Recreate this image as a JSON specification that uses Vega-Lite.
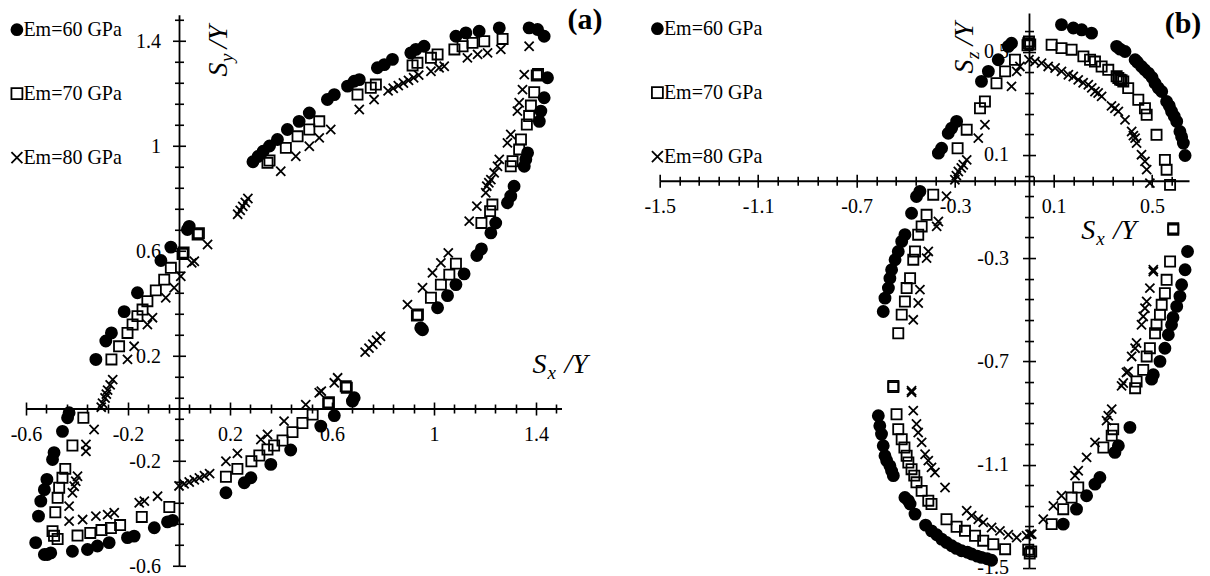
{
  "$schema": "https://vega.github.io/schema/vega-lite/v6.json",
  "usermeta": {"embedOptions": {"actions": false}},
  "background": "white",
  "padding": {"left": 6, "top": 4.9, "right": 0, "bottom": 2},
  "spacing": 97.7,
  "bounds": "flush",
  "center": true,
  "datasets": {
    "a": [
      {"s":"60","x":0.04,"y":0.694},{"s":"60","x":0.033,"y":0.682},{"s":"60","x":-0.032,"y":0.615},{"s":"60","x":-0.071,"y":0.564},{"s":"60","x":-0.163,"y":0.441},{"s":"60","x":-0.215,"y":0.369},{"s":"60","x":-0.265,"y":0.288},{"s":"60","x":-0.287,"y":0.257},{"s":"60","x":-0.326,"y":0.187},
      {"s":"60","x":-0.431,"y":-0.016},{"s":"60","x":-0.437,"y":-0.035},{"s":"60","x":-0.457,"y":-0.087},{"s":"60","x":-0.49,"y":-0.168},{"s":"60","x":-0.496,"y":-0.194},{"s":"60","x":-0.518,"y":-0.27},{"s":"60","x":-0.528,"y":-0.309},{"s":"60","x":-0.542,"y":-0.353},{"s":"60","x":-0.551,"y":-0.41},{"s":"60","x":-0.562,"y":-0.511},{"s":"60","x":-0.528,"y":-0.556},{"s":"60","x":-0.516,"y":-0.556},{"s":"60","x":-0.503,"y":-0.55},{"s":"60","x":-0.418,"y":-0.544},{"s":"60","x":-0.359,"y":-0.537},{"s":"60","x":-0.32,"y":-0.524},{"s":"60","x":-0.274,"y":-0.511},{"s":"60","x":-0.202,"y":-0.492},{"s":"60","x":-0.176,"y":-0.486},{"s":"60","x":-0.097,"y":-0.454},{"s":"60","x":-0.045,"y":-0.432},{"s":"60","x":-0.025,"y":-0.426},
      {"s":"60","x":0.184,"y":-0.321},{"s":"60","x":0.256,"y":-0.283},{"s":"60","x":0.282,"y":-0.264},{"s":"60","x":0.36,"y":-0.213},{"s":"60","x":0.438,"y":-0.158},{"s":"60","x":0.556,"y":-0.067},{"s":"60","x":0.609,"y":-0.027},{"s":"60","x":0.68,"y":0.028},{"s":"60","x":0.687,"y":0.041},
      {"s":"60","x":0.948,"y":0.307},{"s":"60","x":0.955,"y":0.3},{"s":"60","x":1.014,"y":0.384},{"s":"60","x":1.053,"y":0.43},{"s":"60","x":1.086,"y":0.472},{"s":"60","x":1.118,"y":0.513},{"s":"60","x":1.168,"y":0.583},{"s":"60","x":1.186,"y":0.608},{"s":"60","x":1.223,"y":0.669},{"s":"60","x":1.242,"y":0.707},{"s":"60","x":1.288,"y":0.784},{"s":"60","x":1.301,"y":0.809},{"s":"60","x":1.314,"y":0.847},{"s":"60","x":1.354,"y":0.923},{"s":"60","x":1.36,"y":0.949},{"s":"60","x":1.367,"y":0.974},{"s":"60","x":1.413,"y":1.094},{"s":"60","x":1.419,"y":1.133},{"s":"60","x":1.432,"y":1.184},{"s":"60","x":1.445,"y":1.26},{"s":"60","x":1.432,"y":1.418},{"s":"60","x":1.406,"y":1.444},{"s":"60","x":1.373,"y":1.45},
      {"s":"60","x":1.256,"y":1.45},{"s":"60","x":1.177,"y":1.437},{"s":"60","x":1.125,"y":1.431},{"s":"60","x":1.086,"y":1.418},{"s":"60","x":0.961,"y":1.38},{"s":"60","x":0.929,"y":1.368},{"s":"60","x":0.909,"y":1.355},{"s":"60","x":0.837,"y":1.33},{"s":"60","x":0.805,"y":1.31},{"s":"60","x":0.778,"y":1.298},{"s":"60","x":0.707,"y":1.253},{"s":"60","x":0.687,"y":1.247},{"s":"60","x":0.661,"y":1.228},{"s":"60","x":0.609,"y":1.196},{"s":"60","x":0.582,"y":1.177},{"s":"60","x":0.511,"y":1.126},{"s":"60","x":0.471,"y":1.094},{"s":"60","x":0.425,"y":1.063},{"s":"60","x":0.386,"y":1.025},{"s":"60","x":0.355,"y":1.0},{"s":"60","x":0.33,"y":0.98},{"s":"60","x":0.31,"y":0.96},{"s":"60","x":0.29,"y":0.94},
      {"s":"70","x":0.073,"y":0.663},{"s":"70","x":0.078,"y":0.668},{"s":"70","x":0.014,"y":0.589},{"s":"70","x":0.018,"y":0.594},{"s":"70","x":-0.032,"y":0.536},{"s":"70","x":-0.058,"y":0.491},{"s":"70","x":-0.091,"y":0.45},{"s":"70","x":-0.124,"y":0.409},{"s":"70","x":-0.143,"y":0.377},{"s":"70","x":-0.163,"y":0.352},{"s":"70","x":-0.182,"y":0.32},{"s":"70","x":-0.202,"y":0.288},{"s":"70","x":-0.235,"y":0.237},{"s":"70","x":-0.265,"y":0.187},
      {"s":"70","x":-0.375,"y":-0.035},{"s":"70","x":-0.418,"y":-0.141},{"s":"70","x":-0.446,"y":-0.23},{"s":"70","x":-0.457,"y":-0.264},{"s":"70","x":-0.47,"y":-0.302},{"s":"70","x":-0.476,"y":-0.34},{"s":"70","x":-0.485,"y":-0.395},{"s":"70","x":-0.496,"y":-0.467},{"s":"70","x":-0.49,"y":-0.485},{"s":"70","x":-0.476,"y":-0.497},{"s":"70","x":-0.398,"y":-0.484},{"s":"70","x":-0.348,"y":-0.474},{"s":"70","x":-0.304,"y":-0.463},{"s":"70","x":-0.267,"y":-0.455},{"s":"70","x":-0.231,"y":-0.444},{"s":"70","x":-0.146,"y":-0.413},{"s":"70","x":-0.038,"y":-0.375},
      {"s":"70","x":0.184,"y":-0.26},{"s":"70","x":0.229,"y":-0.23},{"s":"70","x":0.284,"y":-0.201},{"s":"70","x":0.315,"y":-0.179},{"s":"70","x":0.347,"y":-0.156},{"s":"70","x":0.373,"y":-0.141},{"s":"70","x":0.406,"y":-0.122},{"s":"70","x":0.445,"y":-0.09},{"s":"70","x":0.484,"y":-0.055},{"s":"70","x":0.524,"y":-0.023},{"s":"70","x":0.585,"y":0.019},{"s":"70","x":0.588,"y":0.024},{"s":"70","x":0.654,"y":0.085},{"s":"70","x":0.658,"y":0.079},
      {"s":"70","x":0.933,"y":0.354},{"s":"70","x":0.937,"y":0.358},{"s":"70","x":0.988,"y":0.422},{"s":"70","x":1.027,"y":0.472},{"s":"70","x":1.06,"y":0.51},{"s":"70","x":1.086,"y":0.552},{"s":"70","x":1.186,"y":0.707},{"s":"70","x":1.22,"y":0.752},{"s":"70","x":1.229,"y":0.777},{"s":"70","x":1.301,"y":0.923},{"s":"70","x":1.308,"y":0.942},{"s":"70","x":1.334,"y":0.987},{"s":"70","x":1.341,"y":1.025},{"s":"70","x":1.364,"y":1.082},{"s":"70","x":1.373,"y":1.114},{"s":"70","x":1.38,"y":1.154},{"s":"70","x":1.393,"y":1.205},{"s":"70","x":1.403,"y":1.269},{"s":"70","x":1.408,"y":1.274},
      {"s":"70","x":1.269,"y":1.408},{"s":"70","x":1.197,"y":1.399},{"s":"70","x":1.151,"y":1.393},{"s":"70","x":1.112,"y":1.38},{"s":"70","x":1.08,"y":1.368},{"s":"70","x":1.014,"y":1.349},{"s":"70","x":0.988,"y":1.336},{"s":"70","x":0.935,"y":1.317},{"s":"70","x":0.916,"y":1.307},{"s":"70","x":0.772,"y":1.234},{"s":"70","x":0.752,"y":1.222},{"s":"70","x":0.7,"y":1.196},{"s":"70","x":0.55,"y":1.094},{"s":"70","x":0.511,"y":1.063},{"s":"70","x":0.465,"y":1.037},{"s":"70","x":0.419,"y":0.993},{"s":"70","x":0.347,"y":0.936},{"s":"70","x":0.355,"y":0.945},
      {"s":"80","x":0.112,"y":0.625},{"s":"80","x":0.06,"y":0.561},{"s":"80","x":0.05,"y":0.555},{"s":"80","x":0.007,"y":0.504},{"s":"80","x":-0.019,"y":0.46},{"s":"80","x":-0.052,"y":0.422},{"s":"80","x":-0.104,"y":0.346},{"s":"80","x":-0.124,"y":0.32},{"s":"80","x":-0.176,"y":0.237},{"s":"80","x":-0.202,"y":0.187},
      {"s":"80","x":-0.26,"y":0.11},{"s":"80","x":-0.27,"y":0.09},{"s":"80","x":-0.28,"y":0.07},{"s":"80","x":-0.285,"y":0.055},{"s":"80","x":-0.29,"y":0.04},{"s":"80","x":-0.3,"y":0.02},{"s":"80","x":-0.305,"y":0.005},
      {"s":"80","x":-0.333,"y":-0.08},{"s":"80","x":-0.365,"y":-0.137},{"s":"80","x":-0.365,"y":-0.163},{"s":"80","x":-0.398,"y":-0.258},{"s":"80","x":-0.405,"y":-0.277},{"s":"80","x":-0.411,"y":-0.296},{"s":"80","x":-0.418,"y":-0.321},{"s":"80","x":-0.431,"y":-0.372},{"s":"80","x":-0.431,"y":-0.429},{"s":"80","x":-0.378,"y":-0.423},{"s":"80","x":-0.326,"y":-0.41},{"s":"80","x":-0.28,"y":-0.404},{"s":"80","x":-0.254,"y":-0.397},{"s":"80","x":-0.156,"y":-0.359},{"s":"80","x":-0.136,"y":-0.353},{"s":"80","x":-0.084,"y":-0.334},
      {"s":"80","x":0.0,"y":-0.295},{"s":"80","x":0.02,"y":-0.287},{"s":"80","x":0.04,"y":-0.28},{"s":"80","x":0.06,"y":-0.272},{"s":"80","x":0.08,"y":-0.264},{"s":"80","x":0.1,"y":-0.256},{"s":"80","x":0.12,"y":-0.248},
      {"s":"80","x":0.184,"y":-0.201},{"s":"80","x":0.229,"y":-0.171},{"s":"80","x":0.321,"y":-0.118},{"s":"80","x":0.347,"y":-0.099},{"s":"80","x":0.412,"y":-0.048},{"s":"80","x":0.497,"y":0.015},{"s":"80","x":0.55,"y":0.06},{"s":"80","x":0.558,"y":0.066},{"s":"80","x":0.609,"y":0.098},{"s":"80","x":0.622,"y":0.117},
      {"s":"80","x":0.73,"y":0.215},{"s":"80","x":0.745,"y":0.23},{"s":"80","x":0.76,"y":0.245},{"s":"80","x":0.775,"y":0.26},{"s":"80","x":0.79,"y":0.275},
      {"s":"80","x":0.896,"y":0.396},{"s":"80","x":0.955,"y":0.46},{"s":"80","x":0.994,"y":0.517},{"s":"80","x":1.027,"y":0.555},{"s":"80","x":1.056,"y":0.593},{"s":"80","x":1.138,"y":0.714},{"s":"80","x":1.168,"y":0.771},{"s":"80","x":1.203,"y":0.822},
      {"s":"80","x":1.207,"y":0.847},{"s":"80","x":1.215,"y":0.86},{"s":"80","x":1.223,"y":0.872},{"s":"80","x":1.236,"y":0.898},{"s":"80","x":1.249,"y":0.923},{"s":"80","x":1.256,"y":0.949},{"s":"80","x":1.288,"y":1.012},{"s":"80","x":1.301,"y":1.044},{"s":"80","x":1.327,"y":1.133},{"s":"80","x":1.334,"y":1.165},{"s":"80","x":1.347,"y":1.215},{"s":"80","x":1.354,"y":1.272},{"s":"80","x":1.373,"y":1.38},
      {"s":"80","x":1.262,"y":1.368},{"s":"80","x":1.21,"y":1.355},{"s":"80","x":1.171,"y":1.349},{"s":"80","x":1.131,"y":1.336},{"s":"80","x":1.04,"y":1.304},{"s":"80","x":1.02,"y":1.298},{"s":"80","x":0.988,"y":1.285},{"s":"80","x":0.94,"y":1.27},{"s":"80","x":0.92,"y":1.26},{"s":"80","x":0.9,"y":1.25},{"s":"80","x":0.88,"y":1.24},{"s":"80","x":0.86,"y":1.23},{"s":"80","x":0.84,"y":1.22},{"s":"80","x":0.82,"y":1.21},{"s":"80","x":0.765,"y":1.177},{"s":"80","x":0.707,"y":1.139},{"s":"80","x":0.595,"y":1.063},{"s":"80","x":0.55,"y":1.031},{"s":"80","x":0.511,"y":0.999},{"s":"80","x":0.458,"y":0.961},{"s":"80","x":0.399,"y":0.904},
      {"s":"80","x":0.23,"y":0.74},{"s":"80","x":0.24,"y":0.755},{"s":"80","x":0.25,"y":0.77},{"s":"80","x":0.26,"y":0.785},{"s":"80","x":0.27,"y":0.8}
    ],
    "b": [
      {"s":"60","x":0.132,"y":0.605},{"s":"60","x":0.18,"y":0.592},{"s":"60","x":0.214,"y":0.585},{"s":"60","x":0.254,"y":0.572},{"s":"60","x":0.356,"y":0.521},{"s":"60","x":0.37,"y":0.51},{"s":"60","x":0.39,"y":0.501},{"s":"60","x":0.431,"y":0.469},{"s":"60","x":0.44,"y":0.46},{"s":"60","x":0.457,"y":0.443},{"s":"60","x":0.47,"y":0.43},{"s":"60","x":0.485,"y":0.417},{"s":"60","x":0.5,"y":0.4},{"s":"60","x":0.512,"y":0.378},{"s":"60","x":0.525,"y":0.36},{"s":"60","x":0.539,"y":0.346},{"s":"60","x":0.559,"y":0.307},{"s":"60","x":0.57,"y":0.29},{"s":"60","x":0.579,"y":0.269},{"s":"60","x":0.59,"y":0.25},{"s":"60","x":0.6,"y":0.23},{"s":"60","x":0.613,"y":0.191},{"s":"60","x":0.62,"y":0.17},{"s":"60","x":0.627,"y":0.146},{"s":"60","x":0.634,"y":0.098},
      {"s":"60","x":-0.071,"y":0.533},{"s":"60","x":-0.084,"y":0.521},{"s":"60","x":-0.125,"y":0.469},{"s":"60","x":-0.165,"y":0.424},{"s":"60","x":-0.193,"y":0.385},{"s":"60","x":-0.294,"y":0.23},{"s":"60","x":-0.314,"y":0.204},{"s":"60","x":-0.328,"y":0.184},{"s":"60","x":-0.355,"y":0.126},{"s":"60","x":-0.368,"y":0.107},
      {"s":"60","x":-0.443,"y":-0.041},{"s":"60","x":-0.457,"y":-0.061},{"s":"60","x":-0.477,"y":-0.126},{"s":"60","x":-0.504,"y":-0.209},{"s":"60","x":-0.517,"y":-0.235},{"s":"60","x":-0.531,"y":-0.274},{"s":"60","x":-0.544,"y":-0.306},{"s":"60","x":-0.558,"y":-0.345},{"s":"60","x":-0.565,"y":-0.378},{"s":"60","x":-0.571,"y":-0.416},{"s":"60","x":-0.585,"y":-0.455},{"s":"60","x":-0.592,"y":-0.507},
      {"s":"60","x":-0.612,"y":-0.911},{"s":"60","x":-0.606,"y":-0.95},{"s":"60","x":-0.599,"y":-0.982},{"s":"60","x":-0.592,"y":-1.027},{"s":"60","x":-0.585,"y":-1.066},{"s":"60","x":-0.578,"y":-1.085},{"s":"60","x":-0.565,"y":-1.105},{"s":"60","x":-0.558,"y":-1.125},{"s":"60","x":-0.551,"y":-1.143},{"s":"60","x":-0.504,"y":-1.228},{"s":"60","x":-0.49,"y":-1.24},{"s":"60","x":-0.483,"y":-1.253},{"s":"60","x":-0.463,"y":-1.292},{"s":"60","x":-0.42,"y":-1.335},{"s":"60","x":-0.396,"y":-1.357},{"s":"60","x":-0.375,"y":-1.372},{"s":"60","x":-0.355,"y":-1.389},{"s":"60","x":-0.335,"y":-1.402},{"s":"60","x":-0.314,"y":-1.415},{"s":"60","x":-0.295,"y":-1.425},{"s":"60","x":-0.274,"y":-1.434},{"s":"60","x":-0.25,"y":-1.44},{"s":"60","x":-0.233,"y":-1.447},{"s":"60","x":-0.21,"y":-1.455},{"s":"60","x":-0.193,"y":-1.46},{"s":"60","x":-0.17,"y":-1.465},{"s":"60","x":-0.152,"y":-1.471},
      {"s":"60","x":0.139,"y":-1.331},{"s":"60","x":0.193,"y":-1.273},{"s":"60","x":0.234,"y":-1.221},{"s":"60","x":0.268,"y":-1.176},{"s":"60","x":0.288,"y":-1.15},{"s":"60","x":0.349,"y":-1.053},{"s":"60","x":0.363,"y":-1.027},{"s":"60","x":0.41,"y":-0.956},{"s":"60","x":0.498,"y":-0.769},{"s":"60","x":0.505,"y":-0.752},{"s":"60","x":0.532,"y":-0.7},{"s":"60","x":0.552,"y":-0.649},{"s":"60","x":0.566,"y":-0.597},{"s":"60","x":0.579,"y":-0.558},{"s":"60","x":0.585,"y":-0.53},{"s":"60","x":0.6,"y":-0.487},{"s":"60","x":0.613,"y":-0.448},{"s":"60","x":0.62,"y":-0.403},{"s":"60","x":0.634,"y":-0.345},{"s":"60","x":0.644,"y":-0.274},
      {"s":"70","x":-0.003,"y":0.533},{"s":"70","x":0.0,"y":0.54},{"s":"70","x":0.005,"y":0.528},{"s":"70","x":-0.006,"y":0.525},{"s":"70","x":0.092,"y":0.527},{"s":"70","x":0.132,"y":0.514},{"s":"70","x":0.173,"y":0.508},{"s":"70","x":0.221,"y":0.482},{"s":"70","x":0.248,"y":0.469},{"s":"70","x":0.268,"y":0.462},{"s":"70","x":0.295,"y":0.443},{"s":"70","x":0.322,"y":0.43},{"s":"70","x":0.356,"y":0.405},{"s":"70","x":0.363,"y":0.398},{"s":"70","x":0.37,"y":0.392},{"s":"70","x":0.376,"y":0.39},{"s":"70","x":0.383,"y":0.385},{"s":"70","x":0.403,"y":0.359},{"s":"70","x":0.444,"y":0.314},{"s":"70","x":0.471,"y":0.281},{"s":"70","x":0.478,"y":0.256},{"s":"70","x":0.518,"y":0.178},{"s":"70","x":0.552,"y":0.081},{"s":"70","x":0.559,"y":0.043},{"s":"70","x":0.573,"y":-0.016},
      {"s":"70","x":-0.057,"y":0.469},{"s":"70","x":-0.097,"y":0.424},{"s":"70","x":-0.132,"y":0.378},{"s":"70","x":-0.179,"y":0.307},{"s":"70","x":-0.199,"y":0.281},{"s":"70","x":-0.253,"y":0.198},{"s":"70","x":-0.29,"y":0.126},
      {"s":"70","x":-0.389,"y":-0.054},{"s":"70","x":-0.416,"y":-0.132},{"s":"70","x":-0.436,"y":-0.177},{"s":"70","x":-0.45,"y":-0.209},{"s":"70","x":-0.463,"y":-0.274},{"s":"70","x":-0.47,"y":-0.306},{"s":"70","x":-0.483,"y":-0.378},{"s":"70","x":-0.497,"y":-0.416},{"s":"70","x":-0.504,"y":-0.468},{"s":"70","x":-0.517,"y":-0.519},{"s":"70","x":-0.531,"y":-0.591},
      {"s":"70","x":-0.551,"y":-0.795},{"s":"70","x":-0.551,"y":-0.8},{"s":"70","x":-0.538,"y":-0.905},{"s":"70","x":-0.531,"y":-0.963},{"s":"70","x":-0.517,"y":-1.002},{"s":"70","x":-0.506,"y":-1.034},{"s":"70","x":-0.497,"y":-1.066},{"s":"70","x":-0.49,"y":-1.092},{"s":"70","x":-0.477,"y":-1.118},{"s":"70","x":-0.466,"y":-1.143},{"s":"70","x":-0.457,"y":-1.169},{"s":"70","x":-0.436,"y":-1.202},{"s":"70","x":-0.409,"y":-1.24},{"s":"70","x":-0.396,"y":-1.253},{"s":"70","x":-0.335,"y":-1.312},{"s":"70","x":-0.294,"y":-1.341},{"s":"70","x":-0.26,"y":-1.357},{"s":"70","x":-0.219,"y":-1.376},{"s":"70","x":-0.186,"y":-1.395},{"s":"70","x":-0.145,"y":-1.409},{"s":"70","x":-0.097,"y":-1.428},
      {"s":"70","x":-0.003,"y":-1.43},{"s":"70","x":0.009,"y":-1.437},{"s":"70","x":0.003,"y":-1.445},
      {"s":"70","x":0.092,"y":-1.331},{"s":"70","x":0.139,"y":-1.273},{"s":"70","x":0.173,"y":-1.228},{"s":"70","x":0.2,"y":-1.189},{"s":"70","x":0.302,"y":-1.034},{"s":"70","x":0.336,"y":-0.988},{"s":"70","x":0.342,"y":-0.963},{"s":"70","x":0.431,"y":-0.804},{"s":"70","x":0.437,"y":-0.778},{"s":"70","x":0.464,"y":-0.733},{"s":"70","x":0.478,"y":-0.681},{"s":"70","x":0.491,"y":-0.649},{"s":"70","x":0.512,"y":-0.591},{"s":"70","x":0.518,"y":-0.558},{"s":"70","x":0.532,"y":-0.519},{"s":"70","x":0.539,"y":-0.481},{"s":"70","x":0.552,"y":-0.436},{"s":"70","x":0.559,"y":-0.384},{"s":"70","x":0.573,"y":-0.313},{"s":"70","x":0.586,"y":-0.184},{"s":"70","x":0.586,"y":-0.19},
      {"s":"80","x":0.0,"y":0.469},{"s":"80","x":0.024,"y":0.462},{"s":"80","x":0.051,"y":0.456},{"s":"80","x":0.078,"y":0.443},{"s":"80","x":0.106,"y":0.437},{"s":"80","x":0.132,"y":0.424},{"s":"80","x":0.16,"y":0.411},{"s":"80","x":0.18,"y":0.404},{"s":"80","x":0.2,"y":0.391},{"s":"80","x":0.22,"y":0.38},{"s":"80","x":0.241,"y":0.372},{"s":"80","x":0.255,"y":0.36},{"s":"80","x":0.268,"y":0.346},{"s":"80","x":0.281,"y":0.34},{"s":"80","x":0.295,"y":0.327},{"s":"80","x":0.335,"y":0.29},{"s":"80","x":0.349,"y":0.281},{"s":"80","x":0.363,"y":0.269},{"s":"80","x":0.39,"y":0.236},{"s":"80","x":0.417,"y":0.191},{"s":"80","x":0.424,"y":0.175},{"s":"80","x":0.431,"y":0.165},{"s":"80","x":0.437,"y":0.146},{"s":"80","x":0.457,"y":0.101},{"s":"80","x":0.471,"y":0.075},{"s":"80","x":0.478,"y":0.043},{"s":"80","x":0.491,"y":-0.009},
      {"s":"80","x":-0.037,"y":0.443},{"s":"80","x":-0.05,"y":0.424},{"s":"80","x":-0.071,"y":0.366},{"s":"80","x":-0.179,"y":0.217},{"s":"80","x":-0.206,"y":0.165},{"s":"80","x":-0.253,"y":0.081},{"s":"80","x":-0.267,"y":0.062},{"s":"80","x":-0.275,"y":0.05},{"s":"80","x":-0.287,"y":0.036},{"s":"80","x":-0.295,"y":0.02},{"s":"80","x":-0.301,"y":0.004},
      {"s":"80","x":-0.335,"y":-0.06},{"s":"80","x":-0.368,"y":-0.158},{"s":"80","x":-0.375,"y":-0.177},{"s":"80","x":-0.409,"y":-0.274},{"s":"80","x":-0.416,"y":-0.3},{"s":"80","x":-0.443,"y":-0.422},{"s":"80","x":-0.45,"y":-0.474},{"s":"80","x":-0.47,"y":-0.539},
      {"s":"80","x":-0.477,"y":-0.814},{"s":"80","x":-0.477,"y":-0.82},{"s":"80","x":-0.47,"y":-0.891},{"s":"80","x":-0.457,"y":-0.943},{"s":"80","x":-0.45,"y":-0.976},{"s":"80","x":-0.436,"y":-1.014},{"s":"80","x":-0.422,"y":-1.06},{"s":"80","x":-0.409,"y":-1.085},{"s":"80","x":-0.396,"y":-1.111},{"s":"80","x":-0.382,"y":-1.131},{"s":"80","x":-0.341,"y":-1.189},{"s":"80","x":-0.253,"y":-1.279},{"s":"80","x":-0.233,"y":-1.298},{"s":"80","x":-0.206,"y":-1.312},{"s":"80","x":-0.186,"y":-1.324},{"s":"80","x":-0.152,"y":-1.344},{"s":"80","x":-0.118,"y":-1.357},{"s":"80","x":-0.084,"y":-1.372},{"s":"80","x":-0.05,"y":-1.383},{"s":"80","x":-0.01,"y":-1.376},{"s":"80","x":0.004,"y":-1.37},
      {"s":"80","x":0.011,"y":-1.37},{"s":"80","x":0.058,"y":-1.312},{"s":"80","x":0.099,"y":-1.26},{"s":"80","x":0.132,"y":-1.221},{"s":"80","x":0.187,"y":-1.143},{"s":"80","x":0.2,"y":-1.124},{"s":"80","x":0.234,"y":-1.072},{"s":"80","x":0.268,"y":-1.014},{"s":"80","x":0.315,"y":-0.93},{"s":"80","x":0.322,"y":-0.911},{"s":"80","x":0.336,"y":-0.885},{"s":"80","x":0.376,"y":-0.795},{"s":"80","x":0.383,"y":-0.784},{"s":"80","x":0.396,"y":-0.743},{"s":"80","x":0.403,"y":-0.739},{"s":"80","x":0.417,"y":-0.681},{"s":"80","x":0.431,"y":-0.649},{"s":"80","x":0.437,"y":-0.629},{"s":"80","x":0.457,"y":-0.558},{"s":"80","x":0.464,"y":-0.526},{"s":"80","x":0.471,"y":-0.494},{"s":"80","x":0.478,"y":-0.468},{"s":"80","x":0.491,"y":-0.416},{"s":"80","x":0.505,"y":-0.352},{"s":"80","x":0.505,"y":-0.345}
    ]
  },
  "hconcat": [
    {
      "width": 535.5,
      "height": 551.25,
      "resolve": {"axis": {"x": "independent", "y": "independent"}},
      "layer": [
        {
          "data": {"name": "a"},
          "mark": {"type": "point", "strokeWidth": 1.8, "opacity": 1},
          "encoding": {
            "x": {"field": "x", "type": "quantitative", "scale": {"domain": [-0.6, 1.5], "nice": false, "zero": false},
              "axis": {"orient": "bottom", "offset": -157.5, "title": null,
                "values": [-0.6,-0.52,-0.44,-0.36,-0.28,-0.2,-0.12,-0.04,0.04,0.12,0.2,0.28,0.36,0.44,0.52,0.6,0.68,0.76,0.84,0.92,1,1.08,1.16,1.24,1.32,1.4,1.48],
                "labelExpr": "indexof([-0.6,-0.2,0.2,0.6,1,1.4], datum.value) >= 0 ? '' + datum.value : ''",
                "tickSize": {"condition": {"test": "indexof([-0.6,-0.2,0.2,0.6,1,1.4], datum.value) >= 0", "value": 6.5}, "value": 4.5},
                "labelPadding": 9}},
            "y": {"field": "y", "type": "quantitative", "scale": {"domain": [-0.6, 1.5], "nice": false, "zero": false},
              "axis": {"orient": "left", "offset": -153, "title": null,
                "values": [-0.6,-0.52,-0.44,-0.36,-0.28,-0.2,-0.12,-0.04,0.04,0.12,0.2,0.28,0.36,0.44,0.52,0.6,0.68,0.76,0.84,0.92,1,1.08,1.16,1.24,1.32,1.4,1.48],
                "labelExpr": "indexof([-0.6,-0.2,0.2,0.6,1,1.4], datum.value) >= 0 ? '' + datum.value : ''",
                "tickSize": {"condition": {"test": "indexof([-0.6,-0.2,0.2,0.6,1,1.4], datum.value) >= 0", "value": 6.5}, "value": 4.5},
                "labelPadding": 12}},
            "shape": {"field": "s", "type": "nominal",
              "scale": {"domain": ["60","70","80"], "range": ["circle","square","M-1,-1L1,1M-1,1L1,-1"]},
              "legend": {"orient": "none", "legendX": -19.1, "legendY": 4.9, "title": null, "labelExpr": "'Em=' + datum.label + ' GPa'"}},
            "fill": {"field": "s", "type": "nominal",
              "scale": {"domain": ["60","70","80"], "range": ["black","transparent","transparent"]},
              "legend": {"orient": "none", "legendX": -19.1, "legendY": 4.9, "title": null, "labelExpr": "'Em=' + datum.label + ' GPa'"}},
            "stroke": {"field": "s", "type": "nominal",
              "scale": {"domain": ["60","70","80"], "range": ["black","black","black"]},
              "legend": {"orient": "none", "legendX": -19.1, "legendY": 4.9, "title": null, "labelExpr": "'Em=' + datum.label + ' GPa'"}},
            "size": {"field": "s", "type": "ordinal",
              "scale": {"domain": ["60","70","80"], "range": [123, 83, 100]}, "legend": null}
          }
        },
        {
          "data": {"values": [{"x": 1.386, "y": 0.137, "t": "S"}]},
          "mark": {"type": "text", "fontStyle": "italic", "fontSize": 28, "align": "left", "baseline": "alphabetic", "color": "black"},
          "encoding": {
            "x": {"field": "x", "type": "quantitative",
              "axis": {"orient": "top", "offset": -393.75, "title": null, "labels": false, "domain": false,
                "values": [-0.6,-0.52,-0.44,-0.36,-0.28,-0.2,-0.12,-0.04,0.04,0.12,0.2,0.28,0.36,0.44,0.52,0.6,0.68,0.76,0.84,0.92,1,1.08,1.16,1.24,1.32,1.4,1.48],
                "tickSize": {"condition": {"test": "indexof([-0.6,-0.2,0.2,0.6,1,1.4], datum.value) >= 0", "value": 6.5}, "value": 4.5}}},
            "y": {"field": "y", "type": "quantitative",
              "axis": {"orient": "right", "offset": -382.5, "title": null, "labels": false, "domain": false,
                "values": [-0.6,-0.52,-0.44,-0.36,-0.28,-0.2,-0.12,-0.04,0.04,0.12,0.2,0.28,0.36,0.44,0.52,0.6,0.68,0.76,0.84,0.92,1,1.08,1.16,1.24,1.32,1.4,1.48],
                "tickSize": {"condition": {"test": "indexof([-0.6,-0.2,0.2,0.6,1,1.4], datum.value) >= 0", "value": 6.5}, "value": 4.5}}},
            "text": {"field": "t"}
          }
        },
        {
          "data": {"values": [{"x": 1.386, "y": 0.137, "t": "x"}]},
          "mark": {"type": "text", "fontStyle": "italic", "fontSize": 19, "align": "left", "baseline": "alphabetic", "dx": 15, "dy": 6, "color": "black"},
          "encoding": {"x": {"field": "x", "type": "quantitative", "axis": null}, "y": {"field": "y", "type": "quantitative", "axis": null}, "text": {"field": "t"}}
        },
        {
          "data": {"values": [{"x": 1.386, "y": 0.137, "t": "/Y"}]},
          "mark": {"type": "text", "fontStyle": "italic", "fontSize": 28, "align": "left", "baseline": "alphabetic", "dx": 32, "color": "black"},
          "encoding": {"x": {"field": "x", "type": "quantitative", "axis": null}, "y": {"field": "y", "type": "quantitative", "axis": null}, "text": {"field": "t"}}
        },
        {
          "data": {"values": [{"x": 0.19, "y": 1.265, "t": "S\u00a0\u00a0/Y"}]},
          "mark": {"type": "text", "fontStyle": "italic", "fontSize": 28, "align": "left", "baseline": "alphabetic", "angle": 270, "color": "black"},
          "encoding": {"x": {"field": "x", "type": "quantitative", "axis": null}, "y": {"field": "y", "type": "quantitative", "axis": null}, "text": {"field": "t"}}
        },
        {
          "data": {"values": [{"x": 0.19, "y": 1.265, "t": "y"}]},
          "mark": {"type": "text", "fontStyle": "italic", "fontSize": 19, "align": "left", "baseline": "alphabetic", "angle": 270, "dx": 14.5, "dy": 6, "color": "black"},
          "encoding": {"x": {"field": "x", "type": "quantitative", "axis": null}, "y": {"field": "y", "type": "quantitative", "axis": null}, "text": {"field": "t"}}
        },
        {
          "data": {"values": [{"x": 1.661, "y": 1.444, "t": "(a)"}]},
          "mark": {"type": "text", "fontWeight": "bold", "fontSize": 30, "align": "right", "baseline": "alphabetic", "color": "black"},
          "encoding": {"x": {"field": "x", "type": "quantitative", "axis": null}, "y": {"field": "y", "type": "quantitative", "axis": null}, "text": {"field": "t"}}
        }
      ]
    },
    {
      "width": 529.33,
      "height": 554.7,
      "resolve": {"axis": {"x": "independent", "y": "independent"}},
      "layer": [
        {
          "data": {"name": "b"},
          "mark": {"type": "point", "strokeWidth": 1.8, "opacity": 1},
          "encoding": {
            "x": {"field": "x", "type": "quantitative", "scale": {"domain": [-1.5, 0.65], "nice": false, "zero": false},
              "axis": {"orient": "bottom", "offset": -387, "title": null,
                "values": [-1.5,-1.42,-1.34,-1.26,-1.18,-1.1,-1.02,-0.94,-0.86,-0.78,-0.7,-0.62,-0.54,-0.46,-0.38,-0.3,-0.22,-0.14,-0.06,0.02,0.1,0.18,0.26,0.34,0.42,0.5,0.58],
                "labelExpr": "indexof([-1.5,-1.1,-0.7,-0.3,0.1,0.5], datum.value) >= 0 ? '' + datum.value : ''",
                "tickSize": {"condition": {"test": "indexof([-1.5,-1.1,-0.7,-0.3,0.1,0.5], datum.value) >= 0", "value": 6.5}, "value": 4.5},
                "labelPadding": 9}},
            "y": {"field": "y", "type": "quantitative", "scale": {"domain": [-1.5, 0.65], "nice": false, "zero": false},
              "axis": {"orient": "left", "offset": -369.3, "title": null,
                "values": [-1.5,-1.42,-1.34,-1.26,-1.18,-1.1,-1.02,-0.94,-0.86,-0.78,-0.7,-0.62,-0.54,-0.46,-0.38,-0.3,-0.22,-0.14,-0.06,0.02,0.1,0.18,0.26,0.34,0.42,0.5,0.58],
                "labelExpr": "indexof([-1.5,-1.1,-0.7,-0.3,0.1,0.5], datum.value) >= 0 ? '' + datum.value : ''",
                "tickSize": {"condition": {"test": "indexof([-1.5,-1.1,-0.7,-0.3,0.1,0.5], datum.value) >= 0", "value": 6.5}, "value": 4.5},
                "labelPadding": 14}},
            "shape": {"field": "s", "type": "nominal",
              "scale": {"domain": ["60","70","80"], "range": ["circle","square","M-1,-1L1,1M-1,1L1,-1"]},
              "legend": {"orient": "none", "legendX": -12.3, "legendY": 5.6, "title": null, "labelExpr": "'Em=' + datum.label + ' GPa'"}},
            "fill": {"field": "s", "type": "nominal",
              "scale": {"domain": ["60","70","80"], "range": ["black","transparent","transparent"]},
              "legend": {"orient": "none", "legendX": -12.3, "legendY": 5.6, "title": null, "labelExpr": "'Em=' + datum.label + ' GPa'"}},
            "stroke": {"field": "s", "type": "nominal",
              "scale": {"domain": ["60","70","80"], "range": ["black","black","black"]},
              "legend": {"orient": "none", "legendX": -12.3, "legendY": 5.6, "title": null, "labelExpr": "'Em=' + datum.label + ' GPa'"}},
            "size": {"field": "s", "type": "ordinal",
              "scale": {"domain": ["60","70","80"], "range": [123, 83, 100]}, "legend": null}
          }
        },
        {
          "data": {"values": [{"x": 0.212, "y": -0.224, "t": "S"}]},
          "mark": {"type": "text", "fontStyle": "italic", "fontSize": 28, "align": "left", "baseline": "alphabetic", "color": "black"},
          "encoding": {
            "x": {"field": "x", "type": "quantitative",
              "axis": {"orient": "top", "offset": -167.7, "title": null, "labels": false, "domain": false,
                "values": [-1.5,-1.42,-1.34,-1.26,-1.18,-1.1,-1.02,-0.94,-0.86,-0.78,-0.7,-0.62,-0.54,-0.46,-0.38,-0.3,-0.22,-0.14,-0.06,0.02,0.1,0.18,0.26,0.34,0.42,0.5,0.58],
                "tickSize": {"condition": {"test": "indexof([-1.5,-1.1,-0.7,-0.3,0.1,0.5], datum.value) >= 0", "value": 6.5}, "value": 4.5}}},
            "y": {"field": "y", "type": "quantitative",
              "axis": {"orient": "right", "offset": -160.03, "title": null, "labels": false, "domain": false,
                "values": [-1.5,-1.42,-1.34,-1.26,-1.18,-1.1,-1.02,-0.94,-0.86,-0.78,-0.7,-0.62,-0.54,-0.46,-0.38,-0.3,-0.22,-0.14,-0.06,0.02,0.1,0.18,0.26,0.34,0.42,0.5,0.58],
                "tickSize": {"condition": {"test": "indexof([-1.5,-1.1,-0.7,-0.3,0.1,0.5], datum.value) >= 0", "value": 6.5}, "value": 4.5}}},
            "text": {"field": "t"}
          }
        },
        {
          "data": {"values": [{"x": 0.212, "y": -0.224, "t": "x"}]},
          "mark": {"type": "text", "fontStyle": "italic", "fontSize": 19, "align": "left", "baseline": "alphabetic", "dx": 15, "dy": 6, "color": "black"},
          "encoding": {"x": {"field": "x", "type": "quantitative", "axis": null}, "y": {"field": "y", "type": "quantitative", "axis": null}, "text": {"field": "t"}}
        },
        {
          "data": {"values": [{"x": 0.212, "y": -0.224, "t": "/Y"}]},
          "mark": {"type": "text", "fontStyle": "italic", "fontSize": 28, "align": "left", "baseline": "alphabetic", "dx": 32, "color": "black"},
          "encoding": {"x": {"field": "x", "type": "quantitative", "axis": null}, "y": {"field": "y", "type": "quantitative", "axis": null}, "text": {"field": "t"}}
        },
        {
          "data": {"values": [{"x": -0.226, "y": 0.416, "t": "S\u00a0\u00a0/Y"}]},
          "mark": {"type": "text", "fontStyle": "italic", "fontSize": 28, "align": "left", "baseline": "alphabetic", "angle": 270, "color": "black"},
          "encoding": {"x": {"field": "x", "type": "quantitative", "axis": null}, "y": {"field": "y", "type": "quantitative", "axis": null}, "text": {"field": "t"}}
        },
        {
          "data": {"values": [{"x": -0.226, "y": 0.416, "t": "z"}]},
          "mark": {"type": "text", "fontStyle": "italic", "fontSize": 19, "align": "left", "baseline": "alphabetic", "angle": 270, "dx": 14.5, "dy": 6, "color": "black"},
          "encoding": {"x": {"field": "x", "type": "quantitative", "axis": null}, "y": {"field": "y", "type": "quantitative", "axis": null}, "text": {"field": "t"}}
        },
        {
          "data": {"values": [{"x": 0.7, "y": 0.572, "t": "(b)"}]},
          "mark": {"type": "text", "fontWeight": "bold", "fontSize": 30, "align": "right", "baseline": "alphabetic", "color": "black"},
          "encoding": {"x": {"field": "x", "type": "quantitative", "axis": null}, "y": {"field": "y", "type": "quantitative", "axis": null}, "text": {"field": "t"}}
        }
      ]
    }
  ],
  "resolve": {"legend": {"shape": "independent", "fill": "independent", "stroke": "independent"}},
  "config": {
    "font": "Liberation Serif",
    "view": {"stroke": null},
    "axis": {"domainColor": "black", "domainWidth": 1.8, "tickColor": "black", "tickWidth": 1.6, "labelFont": "Liberation Serif", "labelFontSize": 20, "labelColor": "black", "grid": false, "labelOverlap": false, "labelFlush": false, "labelBound": false, "zindex": 0},
    "legend": {"labelFont": "Liberation Serif", "labelFontSize": 20, "labelColor": "black", "rowPadding": 44, "symbolSize": 120, "symbolStrokeWidth": 1.8, "labelOffset": -3.5, "padding": 0, "offset": 0, "labelLimit": 300},
    "text": {"font": "Liberation Serif"}
  }
}
